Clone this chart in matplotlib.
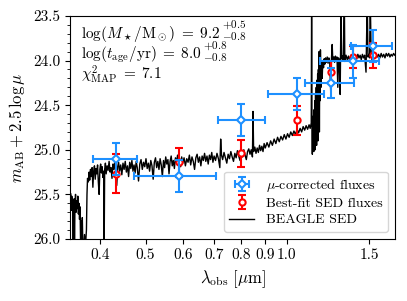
import matplotlib
matplotlib.use("Agg")
import matplotlib.pyplot as plt
import matplotlib.ticker as mticker
import numpy as np

plt.rcParams['mathtext.fontset'] = 'cm'
plt.rcParams['font.family'] = 'serif'
plt.rcParams['font.serif'] = ['cmr10']
plt.rcParams['axes.formatter.use_mathtext'] = True
plt.rcParams['axes.unicode_minus'] = False
plt.rcParams['font.size'] = 12

# photometry (observed wavelength in micron, magnitudes)
wl = [0.433, 0.589, 0.800, 1.051, 1.245, 1.385, 1.530]
wl_lo = [0.387, 0.472, 0.713, 0.910, 1.092, 1.180, 1.370]
wl_hi = [0.479, 0.705, 0.897, 1.200, 1.394, 1.570, 1.680]
mag_mu = [25.10, 25.29, 24.67, 24.37, 24.25, 24.01, 23.84]
err_mu = [0.18, 0.18, 0.18, 0.18, 0.17, 0.18, 0.18]
mag_fit = [25.27, 25.14, 25.04, 24.67, 24.13, 23.96, 23.94]
err_fit = [0.22, 0.16, 0.15, 0.16, 0.12, 0.12, 0.14]

# fit results shown in the corner
results = [(r'$\log(M_\star/{\rm M}_\odot)\;=\;9.2$', '+0.5', '-0.8'),
           (r'$\log(t_{\rm age}/{\rm yr})\;=\;8.0$', '+0.8', '-0.8')]
chi2_text = r'$\chi^2_{\rm MAP}\;=\;7.1$'

# BEAGLE SED (wavelength, magnitude)
sed = """
0.3450 25.58 0.3460 25.49 0.3470 25.68 0.3480 25.52 0.3490 25.61 0.3500 25.74
0.3505 26.10 0.3510 25.66 0.3520 25.55 0.3527 26.10 0.3535 25.63 0.3545 25.50
0.3555 25.70 0.3565 25.57 0.3575 25.66 0.3585 25.52 0.3595 25.72 0.3605 25.60
0.3615 25.78 0.3625 25.64 0.3635 26.10 0.3645 25.80 0.3655 26.10 0.3665 25.76
0.3675 26.10 0.3690 26.10 0.3705 25.95 0.3720 26.10 0.3740 25.90 0.3750 25.50
0.3760 25.32 0.3775 25.36 0.3790 25.25 0.3800 25.34 0.3815 25.22 0.3830 25.30
0.3845 25.20 0.3860 25.42 0.3875 25.24 0.3890 25.18 0.3905 25.33 0.3920 25.21
0.3935 25.27 0.3950 25.17 0.3965 25.36 0.3980 25.50 0.3995 25.22 0.4010 25.16
0.4025 25.26 0.4040 25.19 0.4055 25.31 0.4070 25.24 0.4080 26.10 0.4090 25.22
0.4105 25.15 0.4120 25.27 0.4140 25.18 0.4160 25.23 0.4180 25.13 0.4200 25.25
0.4220 25.20 0.4240 25.32 0.4260 25.16 0.4280 25.22 0.4300 25.12 0.4320 25.26
0.4340 25.40 0.4360 25.19 0.4380 25.14 0.4400 25.24 0.4425 25.17 0.4450 25.28
0.4475 25.15 0.4500 25.22 0.4525 25.13 0.4550 25.25 0.4575 25.18 0.4600 25.30
0.4625 25.14 0.4650 25.21 0.4675 25.12 0.4700 25.24 0.4725 25.17 0.4750 25.26
0.4775 25.13 0.4800 25.20 0.4830 25.35 0.4860 25.16 0.4890 25.11 0.4920 25.22
0.4950 25.14 0.4980 25.19 0.5010 25.10 0.5040 25.21 0.5070 25.15 0.5100 25.24
0.5130 25.12 0.5160 25.18 0.5190 25.33 0.5220 25.14 0.5250 25.09 0.5280 25.20
0.5310 25.13 0.5340 25.22 0.5370 25.10 0.5400 25.17 0.5430 25.30 0.5460 25.12
0.5490 25.20 0.5520 25.08 0.5550 25.16 0.5580 25.11 0.5610 25.27 0.5640 25.13
0.5670 25.07 0.5700 25.18 0.5730 25.12 0.5760 25.21 0.5790 25.09 0.5820 25.15
0.5850 25.06 0.5880 25.17 0.5910 25.11 0.5940 25.19 0.5970 25.08 0.6000 25.15
0.6040 25.09 0.6080 25.18 0.6120 25.10 0.6160 25.14 0.6200 25.06 0.6240 25.17
0.6280 25.08 0.6320 25.13 0.6360 25.22 0.6400 25.09 0.6440 25.05 0.6480 25.14
0.6520 25.08 0.6560 25.18 0.6600 25.07 0.6640 25.12 0.6680 25.04 0.6720 25.13
0.6760 25.07 0.6800 25.16 0.6840 25.06 0.6880 25.11 0.6920 25.03 0.6960 25.14
0.7000 25.07 0.7050 25.12 0.7100 25.04 0.7150 25.10 0.7200 25.20 0.7230 24.88
0.7260 25.06 0.7300 25.11 0.7350 25.03 0.7400 25.09 0.7450 25.15 0.7500 25.05
0.7550 25.10 0.7600 25.02 0.7650 25.08 0.7700 25.13 0.7750 25.04 0.7800 25.09
0.7850 25.01 0.7900 25.07 0.7950 25.12 0.8000 25.03 0.8050 25.08 0.8100 25.00
0.8150 25.06 0.8200 25.11 0.8250 25.02 0.8300 24.99 0.8350 25.05 0.8400 25.00
0.8450 25.08 0.8475 24.57 0.8500 25.02 0.8550 24.97 0.8600 25.04 0.8650 24.98
0.8700 25.03 0.8750 24.95 0.8800 25.01 0.8850 24.96 0.8900 25.02 0.8950 24.93
0.9000 24.98 0.9080 24.92 0.9160 24.97 0.9240 24.90 0.9320 24.95 0.9400 24.88
0.9480 24.93 0.9560 24.86 0.9640 24.91 0.9720 24.85 0.9800 24.89 0.9880 24.83
0.9960 24.88 1.0040 24.82 1.0120 24.86 1.0200 24.80 1.0280 24.84 1.0360 24.79
1.0440 24.83 1.0520 24.77 1.0600 24.81 1.0680 24.76 1.0760 24.80 1.0840 24.74
1.0920 24.78 1.1000 24.73 1.1080 24.77 1.1160 24.72 1.1220 24.76 1.1280 24.70
1.1300 23.30 1.1320 24.72 1.1340 25.05 1.1360 24.68 1.1380 24.95 1.1400 24.62
1.1420 25.02 1.1440 24.55 1.1460 24.90 1.1480 24.45 1.1500 25.00 1.1520 24.38
1.1540 24.85 1.1560 24.30 1.1580 24.95 1.1600 24.22 1.1620 24.70 1.1640 24.15
1.1660 24.90 1.1680 24.10 1.1700 24.60 1.1720 23.90 1.1740 24.80 1.1760 24.05
1.1780 24.45 1.1800 23.88 1.1830 24.30 1.1860 24.02 1.1900 24.20 1.1940 24.00
1.1980 24.08 1.2020 23.98 1.2060 24.04 1.2100 23.97 1.2150 24.02 1.2200 23.96
1.2250 24.03 1.2300 23.97 1.2350 24.01 1.2420 24.40 1.2460 23.97 1.2500 23.82
1.2540 24.00 1.2600 23.96 1.2650 24.02 1.2700 23.95 1.2750 24.00 1.2800 23.96
1.2850 24.30 1.2900 23.97 1.2950 24.02 1.3000 24.38 1.3060 23.30 1.3090 23.98
1.3150 23.95 1.3200 24.00 1.3270 23.30 1.3300 24.01 1.3380 23.94 1.3460 23.99
1.3540 23.95 1.3620 24.00 1.3700 23.94 1.3780 23.98 1.3860 23.95 1.3940 24.00
1.4020 23.94 1.4100 23.98 1.4180 23.93 1.4260 23.97 1.4340 23.94 1.4420 23.99
1.4500 23.93 1.4580 23.97 1.4660 23.94 1.4760 24.13 1.4850 23.30 1.4900 23.96
1.4980 23.93 1.5020 23.97 1.5070 23.30 1.5140 23.95 1.5200 23.99 1.5300 23.93
1.5400 23.97 1.5500 23.92 1.5600 23.96 1.5700 23.93 1.5800 23.97 1.5900 23.92
1.6000 23.96 1.6100 23.93 1.6200 23.97 1.6300 23.92 1.6400 23.95 1.6500 23.92
1.6600 23.96 1.6700 23.93 1.6800 23.95 1.6900 23.92 1.7000 23.94
"""
sed_vals = np.array(sed.split(), dtype=float)
sed_wl = sed_vals[0::2]
sed_mag = sed_vals[1::2]

xticks = [0.4, 0.5, 0.6, 0.7, 0.8, 0.9, 1.0, 1.5]
xticklabels = ['0.4', '0.5', '0.6', '0.7', '0.8', '0.9', '1.0', '1.5']
yticks = [23.5, 24.0, 24.5, 25.0, 25.5, 26.0]

fig = plt.figure(figsize=(4.07, 3.01), dpi=100)
ax = fig.add_axes([0.172, 0.206, 0.798, 0.741])

wl = np.array(wl)
xerr = [wl - np.array(wl_lo), np.array(wl_hi) - wl]

line, = ax.plot(sed_wl, sed_mag, color='k', lw=1.0, zorder=1, label='BEAGLE SED')
eb_fit = ax.errorbar(wl, mag_fit, yerr=err_fit, fmt='o', color='red', mfc='white',
                     mec='red', ms=4.5, mew=1.5, elinewidth=1.5, capsize=3, capthick=1.5,
                     zorder=3, label='Best-fit SED fluxes')
eb_mu = ax.errorbar(wl, mag_mu, xerr=xerr, yerr=err_mu, fmt='D', color='#1E90FF', mfc='white',
                    mec='#1E90FF', ms=4.5, mew=1.5, elinewidth=1.5, capsize=3, capthick=1.5,
                    zorder=4, label=r'$\mu$-corrected fluxes')

ax.set_xscale('log')
ax.set_xlim(0.345, 1.70)
ax.set_ylim(26.0, 23.5)
ax.xaxis.set_major_locator(mticker.FixedLocator(xticks))
ax.xaxis.set_major_formatter(mticker.FixedFormatter(xticklabels))
ax.xaxis.set_minor_locator(mticker.NullLocator())
ax.set_yticks(yticks)
ax.set_yticklabels(['%.1f' % v for v in yticks])
ax.yaxis.set_minor_locator(mticker.MultipleLocator(0.1))
ax.tick_params(labelsize=11)

ax.set_xlabel(r'$\lambda_{\rm obs}\ [\mu{\rm m}]$')
ax.set_ylabel(r'$m_{\rm AB} + 2.5\,\log\mu$')

# corner text: main part at 11pt, +/- errors stacked as one small two-line text
baselines = [0.903, 0.808]
for (main, up, lo), yb in zip(results, baselines):
    t = ax.text(0.035, yb, main, transform=ax.transAxes, va='baseline', fontsize=11)
    ax.annotate('$' + up + '$\n$' + lo + '$', xy=(1, yb), xycoords=(t, 'axes fraction'),
                xytext=(1.0, -1.6), textcoords='offset points', va='baseline',
                fontsize=8, linespacing=0.85)
ax.text(0.035, 0.712, chi2_text, transform=ax.transAxes, va='baseline', fontsize=11)

ax.legend([eb_mu, eb_fit, line], [r'$\mu$-corrected fluxes', 'Best-fit SED fluxes', 'BEAGLE SED'],
          loc='lower right', fontsize=10, borderaxespad=0.5, handletextpad=0.8,
          handlelength=1.8, labelspacing=0.25, borderpad=0.4)

fig.savefig('out.png', dpi=100)
